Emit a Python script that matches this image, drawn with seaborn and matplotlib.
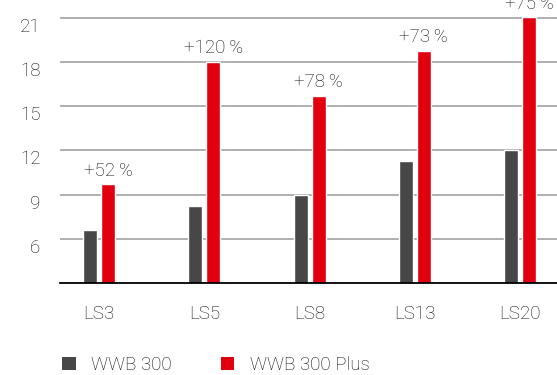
import matplotlib
matplotlib.use('Agg')
import matplotlib.pyplot as plt
import matplotlib.transforms as mtransforms
from matplotlib.patches import Patch
import seaborn as sns
import pandas as pd

categories = ['LS3', 'LS5', 'LS8', 'LS13', 'LS20']
wwb300 = [6.6, 8.2, 9.0, 11.3, 12.0]
wwb300_plus = [9.7, 18.0, 15.7, 18.75, 21.05]
increase_labels = ['+52\u2009%', '+120\u2009%', '+78\u2009%', '+73\u2009%', '+75\u2009%']
series_names = ['WWB 300', 'WWB 300 Plus']
colors = ['#474747', '#e2000f']

data = pd.DataFrame({
    'Modell': categories * 2,
    'Wert': wwb300 + wwb300_plus,
    'Serie': [series_names[0]] * len(categories) + [series_names[1]] * len(categories),
})

sns.set_style('white')
plt.rcParams['font.family'] = ['Roboto', 'DejaVu Sans']
plt.rcParams['font.weight'] = 'light'
plt.rcParams['text.color'] = '#111111'

fs = 13.5

fig = plt.figure(figsize=(5.57, 3.75), dpi=100)
ax = fig.add_axes([60 / 557, 92 / 375, 497 / 557, 283 / 375])

sns.barplot(data=data, x='Modell', y='Wert', hue='Serie', palette=colors,
            width=0.342, gap=0.222, ax=ax, legend=False, saturation=1)

ax.set_ylim(3, 22.2)
ax.set_xlim(-0.37, 4.35)
ax.set_yticks([6, 9, 12, 15, 18, 21])
ax.yaxis.grid(True, color='#9a9a9a', linewidth=1.1)
ax.set_axisbelow(True)
for s in ['top', 'right', 'left']:
    ax.spines[s].set_visible(False)
ax.spines['bottom'].set_color('black')
ax.spines['bottom'].set_linewidth(1.3)
ax.set_xlabel('')
ax.set_ylabel('')
ax.tick_params(axis='both', length=0, labelsize=fs, labelcolor='#111111')
ax.tick_params(axis='y', pad=14)
ax.tick_params(axis='x', pad=16)

# y labels sit just below their gridline
offset = mtransforms.ScaledTranslation(0, -7 / 100, fig.dpi_scale_trans)
for lab in ax.get_yticklabels():
    lab.set_transform(lab.get_transform() + offset)

# percentage labels over the red bars
red_bars = ax.containers[1]
for bar, txt in zip(red_bars, increase_labels):
    ax.text(bar.get_x() + bar.get_width() / 2, bar.get_height() + 0.3, txt,
            ha='center', va='bottom', fontsize=fs, clip_on=False)

handles = [Patch(facecolor=c, edgecolor='none') for c in colors]
fig.legend(handles, series_names, loc='center left',
           bbox_to_anchor=(62 / 557, 10 / 375), ncol=2, frameon=False,
           fontsize=fs, handlelength=0.72, handleheight=0.72,
           handletextpad=0.85, columnspacing=2.6, borderpad=0, borderaxespad=0)

fig.savefig('out.png', dpi=100)
